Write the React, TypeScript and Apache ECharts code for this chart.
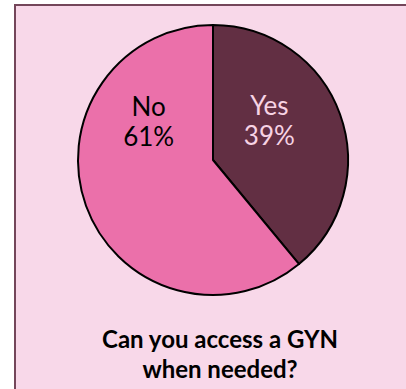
import React, { useEffect, useRef } from "react";
import * as echarts from "echarts";

const categories = ["Yes", "No"];
const percents = [39, 61];
const sliceColors = ["#622f43", "#eb70aa"];
const labelColors = ["#f7d3e4", "#000000"];
const labelOffsets = [[-10, -16], [2, -63]];
const titleLines = ["Can you access a GYN", "when needed?"];

export default function App() {
  const ref = useRef<HTMLDivElement>(null);
  useEffect(() => {
    document.body.style.margin = "0";
    const chart = echarts.init(ref.current!, null, { renderer: "svg" });
    chart.setOption({
      animation: false,
      backgroundColor: "#ffffff",
      graphic: [
        {
          type: "rect",
          z: -10,
          shape: { x: 15, y: 5, width: 400, height: 400 },
          style: { fill: "#f8d8e9", stroke: "#74465a", lineWidth: 2 },
        },
      ],
      title: {
        text: titleLines.join("\n"),
        left: 215,
        textAlign: "center",
        top: 318,
        textStyle: {
          fontFamily: "Lato, 'Open Sans', sans-serif",
          fontSize: 24,
          fontWeight: "bold",
          color: "#000000",
          lineHeight: 30,
        },
      },
      series: [
        {
          type: "pie",
          center: [213, 160],
          radius: [0, 135],
          startAngle: 90,
          clockwise: true,
          silent: true,
          itemStyle: { borderColor: "#000000", borderWidth: 2 },
          labelLine: { show: false },
          data: categories.map((c, i) => ({
            name: c,
            value: percents[i],
            itemStyle: { color: sliceColors[i] },
            label: {
              show: true,
              position: "inner",
              formatter: "{b}\n{c}%",
              color: labelColors[i],
              fontSize: 26,
              lineHeight: 30,
              fontFamily: "Lato, 'Open Sans', sans-serif",
              offset: labelOffsets[i],
            },
          })),
        },
      ],
    });
    return () => chart.dispose();
  }, []);
  return (
    <div
      ref={ref}
      style={{ position: "absolute", left: 0, top: 0, width: 406, height: 389 }}
    />
  );
}
